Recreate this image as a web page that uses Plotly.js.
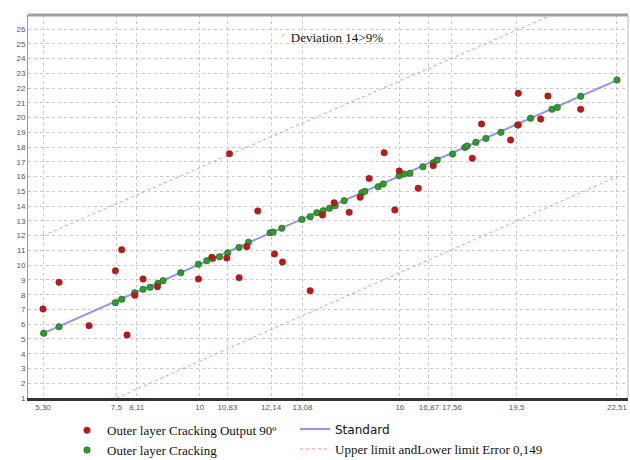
<!DOCTYPE html>
<html>
<head>
<meta charset="utf-8">
<script src="https://cdn.plot.ly/plotly-3.0.1.min.js"></script>
<style>html,body{margin:0;padding:0;background:#fff;}#chart{width:630px;height:460px;}</style>
</head>
<body>
<div id="chart"></div>
<script>
// Outer layer Cracking Output 90° (red)
const redX = [5.30, 5.78, 6.68, 7.47, 7.66, 7.82, 8.05, 8.30, 8.73, 9.96, 10.36, 10.81, 10.89, 11.18, 11.41, 11.74, 12.24, 12.48, 13.31, 13.68, 14.03, 14.48, 14.81, 15.08, 15.53, 15.85, 15.98, 16.55, 17.00, 18.17, 18.45, 19.32, 19.55, 19.55, 20.22, 20.44, 21.42];
const redY = [7.03, 8.84, 5.90, 9.62, 11.05, 5.27, 7.96, 9.06, 8.54, 9.06, 10.53, 10.49, 17.55, 9.15, 11.25, 13.67, 10.76, 10.21, 8.27, 13.40, 14.23, 13.58, 14.60, 15.88, 17.62, 13.74, 16.38, 15.21, 16.74, 17.24, 19.57, 18.48, 21.64, 19.50, 19.90, 21.46, 20.56];
// Outer layer Cracking (green)
const greenX = [5.32, 5.78, 7.47, 7.66, 8.05, 8.30, 8.51, 8.75, 8.90, 9.43, 9.96, 10.21, 10.39, 10.59, 10.84, 11.18, 11.46, 12.11, 12.20, 12.46, 13.06, 13.31, 13.51, 13.70, 13.89, 14.06, 14.33, 14.86, 14.95, 15.35, 15.50, 15.98, 16.12, 16.30, 16.69, 17.00, 17.12, 17.58, 17.95, 18.02, 18.28, 18.58, 19.03, 19.53, 19.92, 20.56, 20.72, 21.42, 22.51];
const greenY = [5.38, 5.83, 7.46, 7.69, 8.13, 8.36, 8.50, 8.77, 8.95, 9.49, 10.06, 10.30, 10.46, 10.57, 10.84, 11.20, 11.55, 12.20, 12.24, 12.50, 13.10, 13.28, 13.55, 13.69, 13.85, 14.03, 14.37, 14.91, 15.00, 15.32, 15.50, 16.06, 16.18, 16.22, 16.67, 16.94, 17.12, 17.53, 17.98, 18.07, 18.32, 18.59, 19.00, 19.50, 19.95, 20.56, 20.69, 21.44, 22.54];
// Standard line
const stdX = [5.30, 22.51];
const stdY = [5.38, 22.54];
// Upper / lower limit lines
const upX = [5.30, 20.60];
const upY = [12.0, 27.0];
const lowX = [7.50, 22.51];
const lowY = [1.0, 16.0];
// Axis ticks
const xTickVals = [5.30, 7.5, 8.11, 10, 10.83, 12.14, 13.08, 16, 16.87, 17.56, 19.5, 22.51];
const xTickText = ["5,30", "7,5", "8,11", "10", "10,83", "12,14", "13,08", "16", "16,87", "17,56", "19,5", "22,51"];
const yTickVals = [1,2,3,4,5,6,7,8,9,10,11,12,13,14,15,16,17,18,19,20,21,22,23,24,25,26];

const markerLine = {width: 1, color: 'rgba(70,70,70,0.55)'};
const traces = [
  {x: stdX, y: stdY, mode: 'lines', name: '<span style="font-family:\'DejaVu Sans\';font-size:12px">Standard</span>',
   line: {color: 'rgba(110,110,255,0.75)', width: 2}, legend: 'legend2'},
  {x: upX, y: upY, mode: 'lines', name: 'Upper limit andLower limit Error 0,149',
   line: {color: 'rgba(255,140,140,0.8)', width: 1.2, dash: 'dot'}, legend: 'legend2', legendgroup: 'lim'},
  {x: lowX, y: lowY, mode: 'lines', name: 'lower', showlegend: false,
   line: {color: 'rgba(255,140,140,0.8)', width: 1.2, dash: 'dot'}, legendgroup: 'lim'},
  {x: greenX, y: greenY, mode: 'markers', name: 'Outer layer Cracking',
   marker: {color: '#22a322', size: 6.5, line: markerLine}, legend: 'legend'},
  {x: redX, y: redY, mode: 'markers', name: 'Outer layer Cracking Output 90º',
   marker: {color: '#d10f0f', size: 6.5, line: markerLine}, legend: 'legend'}
];

const axisFont = {family: 'Liberation Sans, Arial, sans-serif', size: 8, color: '#555'};
const layout = {
  width: 630, height: 460,
  margin: {l: 28, r: 2, t: 15, b: 62, autoexpand: false},
  paper_bgcolor: '#fff', plot_bgcolor: '#fff',
  xaxis: {range: [4.85, 22.84], tickvals: xTickVals, ticktext: xTickText, tickfont: axisFont,
    showgrid: true, gridcolor: '#c8c8c8', griddash: 'dot', gridwidth: 1,
    zeroline: false, showline: true, linecolor: '#333', linewidth: 2.5, mirror: false,
    ticks: '', tickangle: 0},
  yaxis: {range: [1, 26.95], tickvals: yTickVals, tickfont: axisFont,
    showgrid: true, gridcolor: '#c8c8c8', griddash: 'dot', gridwidth: 1,
    zeroline: false, showline: true, linecolor: '#999', linewidth: 1, ticks: '', ticklen: 2},
  showlegend: true,
  legend: {x: 0.065, y: -0.045, xanchor: 'left', yanchor: 'top', bgcolor: 'rgba(0,0,0,0)',
    font: {family: 'Liberation Serif, Times New Roman, serif', size: 13, color: '#111'},
    traceorder: 'reversed', itemwidth: 30, tracegroupgap: 0},
  legend2: {x: 0.445, y: -0.042, xanchor: 'left', yanchor: 'top', bgcolor: 'rgba(0,0,0,0)',
    font: {family: 'Liberation Serif, Times New Roman, serif', size: 13, color: '#111'},
    itemwidth: 30, tracegroupgap: 0},
  shapes: [
    {type: 'line', xref: 'paper', yref: 'paper', x0: 0, x1: 1, y0: 1, y1: 1, line: {color: '#a0a0a0', width: 3}},
    {type: 'line', xref: 'paper', yref: 'paper', x0: 1, x1: 1, y0: 0, y1: 1, line: {color: '#bbbbbb', width: 1}}
  ],
  annotations: [
    {xref: 'paper', yref: 'paper', x: 0.42, y: 0.94, xanchor: 'left', yanchor: 'middle', showarrow: false,
     text: '<span style="color:#d9a05b">\'</span>  Deviation 14&gt;9%',
     font: {family: 'Liberation Serif, Times New Roman, serif', size: 13, color: '#111'}}
  ]
};

Plotly.newPlot('chart', traces, layout, {displayModeBar: false, staticPlot: true});
</script>
</body>
</html>
